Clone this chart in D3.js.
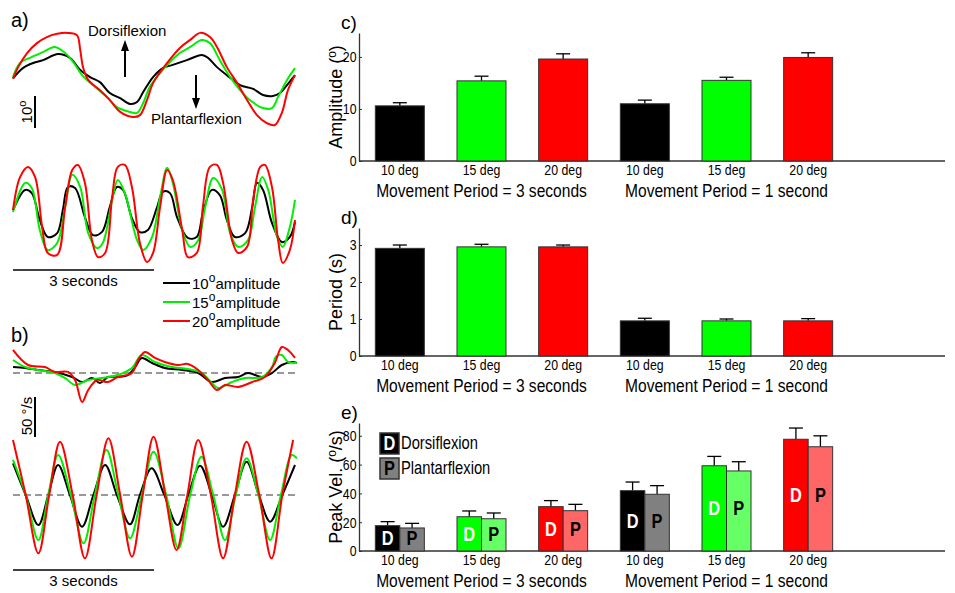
<!DOCTYPE html>
<html>
<head>
<meta charset="utf-8">
<script src="https://cdn.jsdelivr.net/npm/d3@7"></script>
<style>
body{margin:0;background:#fff;}
svg{font-family:"Liberation Sans",Arial,sans-serif;}
</style>
</head>
<body>
<div id="chart"></div>
<script>
// ---- traces: [time (s), value] ----
// a) ankle angle (deg), movement period 3 s
var angleSlowBlack=[[0,-0.1],[0.21,3.1],[0.43,4.7],[0.64,5.6],[0.96,7.5],[1.21,6.3],[1.43,2.5],[1.64,0.3],[1.85,-1.3],[2.06,-4.7],[2.28,-6.3],[2.49,-8.1],[2.64,-7.5],[2.77,-4.4],[2.98,0.3],[3.19,3.1],[3.4,4.1],[3.7,5.6],[4.02,7.2],[4.15,6.3],[4.34,3.4],[4.55,0.9],[4.83,-2.2],[5.11,-3.4],[5.32,-5.3],[5.53,-5.6],[5.68,-4.7],[5.83,-2.2],[6.0,0.9]];
var angleSlowGreen=[[0,0.3],[0.15,4.7],[0.36,6.3],[0.64,8.1],[0.89,9.7],[1.11,7.8],[1.28,5.0],[1.47,0.9],[1.7,-2.2],[2.0,-5.9],[2.21,-9.1],[2.49,-10.6],[2.64,-10.9],[2.77,-7.8],[2.91,-2.8],[3.13,1.6],[3.34,5.0],[3.55,7.8],[3.77,9.7],[4.02,11.9],[4.19,10.9],[4.4,5.6],[4.62,0.3],[4.83,-3.8],[5.04,-6.9],[5.32,-9.4],[5.51,-9.4],[5.64,-5.9],[5.83,-0.6],[6.0,3.1]];
var angleSlowRed=[[0,-0.3],[0.11,3.4],[0.3,7.8],[0.51,10.9],[0.72,12.8],[0.94,13.8],[1.15,14.1],[1.36,13.4],[1.43,8.8],[1.49,3.4],[1.6,-0.6],[1.85,-3.8],[2.06,-6.9],[2.28,-10.6],[2.55,-12.2],[2.7,-11.6],[2.85,-6.9],[2.98,-1.6],[3.28,4.7],[3.55,9.4],[3.77,11.9],[3.98,14.1],[4.19,12.8],[4.34,9.7],[4.55,3.4],[4.77,-1.6],[4.98,-6.9],[5.19,-11.6],[5.4,-14.1],[5.57,-14.7],[5.72,-10.9],[5.85,-3.8],[6.0,0.9]];
// a) ankle angle (deg), movement period 1 s
var angleFastBlack=[[0,0.6],[0.26,6.9],[0.4,5.9],[0.57,-2.5],[0.74,-7.8],[0.94,-6.6],[1.06,0.6],[1.17,7.8],[1.32,7.5],[1.53,-1.6],[1.7,-7.2],[1.89,-6.3],[2.06,1.6],[2.21,7.8],[2.34,6.9],[2.53,-1.9],[2.7,-6.3],[2.87,-5.6],[3.06,1.3],[3.19,6.3],[3.34,5.9],[3.49,-1.6],[3.72,-8.1],[3.91,-7.8],[4.04,-0.3],[4.23,6.9],[4.4,5.3],[4.55,-2.5],[4.72,-7.8],[4.94,-6.6],[5.09,1.6],[5.19,9.1],[5.32,6.9],[5.51,-3.4],[5.72,-9.4],[5.89,-7.8],[6.0,-3.1]];
var angleFastGreen=[[0,0],[0.26,9.1],[0.4,7.5],[0.57,-5.6],[0.74,-11.9],[0.94,-9.7],[1.11,1.6],[1.26,11.6],[1.43,7.8],[1.6,-6.6],[1.79,-11.3],[1.91,-9.7],[2.11,3.8],[2.23,10.0],[2.38,5.9],[2.64,-8.8],[2.77,-11.9],[2.96,-7.8],[3.13,4.7],[3.28,13.8],[3.4,9.1],[3.6,-5.6],[3.77,-10.9],[3.94,-8.8],[4.09,1.6],[4.26,10.6],[4.45,6.9],[4.62,-6.6],[4.79,-10.9],[5.0,-8.8],[5.15,1.6],[5.3,10.9],[5.43,6.9],[5.62,-7.8],[5.74,-10.9],[5.89,-4.7],[6.0,3.8]];
var angleFastRed=[[0,0.6],[0.15,10.9],[0.32,14.1],[0.47,10.9],[0.62,-4.7],[0.74,-12.8],[0.94,-13.4],[1.11,1.6],[1.26,13.1],[1.38,14.7],[1.53,9.1],[1.68,-8.8],[1.81,-14.1],[1.96,-12.8],[2.11,4.7],[2.23,14.1],[2.38,14.7],[2.53,7.8],[2.7,-9.7],[2.85,-15.6],[2.98,-12.8],[3.13,1.6],[3.28,13.1],[3.4,10.0],[3.6,-5.6],[3.72,-14.1],[3.91,-12.8],[4.04,1.6],[4.19,14.1],[4.34,14.7],[4.47,9.1],[4.66,-8.8],[4.79,-12.8],[4.98,-10.9],[5.11,3.8],[5.26,14.1],[5.36,14.7],[5.51,7.8],[5.64,-8.8],[5.74,-15.9],[5.89,-11.9],[6.0,-2.5]];
// b) angular velocity (deg/s), movement period 3 s
var velSlowBlack=[[0,7.5],[0.26,6.3],[0.53,3.8],[0.89,1.3],[1.26,-5],[1.47,-11.3],[1.68,-6.3],[1.85,-12.5],[2.02,-5],[2.23,-5],[2.45,-2.5],[2.6,7.5],[2.74,18.8],[2.96,12.5],[3.23,6.3],[3.6,3.8],[3.94,0],[4.23,-11.3],[4.51,-6.3],[4.79,-5],[5.0,0],[5.3,-5],[5.51,0],[5.72,10],[5.94,13.8],[6.04,12.5]];
var velSlowGreen=[[0,16.3],[0.26,7.5],[0.53,3.8],[0.89,0],[1.11,-6.3],[1.32,-15],[1.6,-8.8],[1.89,-6.3],[2.23,-2.5],[2.53,6.3],[2.74,22.5],[3.02,13.8],[3.38,7.5],[3.72,5],[4.02,0],[4.23,-12.5],[4.36,-18.8],[4.66,-11.3],[4.94,-6.3],[5.3,-5],[5.51,7.5],[5.6,21],[5.72,22.5],[5.85,13.8],[6.04,12.5]];
var velSlowRed=[[0,28.8],[0.32,10],[0.68,7.5],[0.89,1.3],[1.17,1.3],[1.32,-8.8],[1.47,-36.3],[1.6,-21.3],[1.79,-8.8],[2.02,-11.3],[2.23,-5],[2.53,0],[2.66,16.3],[2.81,26.3],[3.02,18.8],[3.23,13.8],[3.51,10],[3.72,11.3],[3.94,3.8],[4.15,-8.8],[4.34,-21.3],[4.51,-15],[4.79,-17.5],[5.09,-11.3],[5.36,-5],[5.57,12.5],[5.72,32.5],[5.85,28.8],[6.0,18.8]];
// b) angular velocity (deg/s), movement period 1 s
var velFastBlack=[[0,39.6],[0.27,0],[0.54,-37.5],[0.75,0],[0.96,37.5],[1.21,0],[1.47,-39.6],[1.71,0],[1.96,37.5],[2.21,0],[2.49,-36.7],[2.7,0],[2.95,33.3],[3.22,0],[3.5,-37.5],[3.73,0],[3.98,36.7],[4.23,0],[4.47,-39.6],[4.72,0],[4.97,41.7],[5.23,0],[5.47,-33.3],[5.73,0],[6.0,37.5]];
var velFastGreen=[[0,43.8],[0.27,0],[0.54,-56.3],[0.75,0],[0.96,50],[1.23,0],[1.5,-60.4],[1.74,0],[1.99,56.3],[2.24,0],[2.49,-54.2],[2.74,0],[2.99,54.2],[3.26,0],[3.52,-66.7],[3.77,0],[4.01,47.9],[4.26,0],[4.51,-56.3],[4.74,0],[4.97,45.8],[5.22,0],[5.47,-56.3],[5.7,0],[5.93,50],[6.04,45.8]];
var velFastRed=[[0,68.8],[0.27,0],[0.54,-72.9],[0.77,0],[1.0,66.7],[1.27,0],[1.53,-79.2],[1.78,0],[2.03,70.8],[2.28,0],[2.53,-77.1],[2.76,0],[2.99,72.9],[3.24,0],[3.48,-68.8],[3.71,0],[3.94,68.8],[4.21,0],[4.47,-79.2],[4.72,0],[4.97,66.7],[5.24,0],[5.5,-79.2],[5.73,0],[5.96,68.8]];

// ---- bar charts ----
var conditions=["10 deg","15 deg","20 deg","10 deg","15 deg","20 deg"];
var periodGroups=["Movement Period = 3 seconds","Movement Period = 1 second"];
var amplitudeMean=[10.6,15.4,19.6,11.0,15.5,19.9];
var amplitudeErr=[0.6,0.9,1.0,0.7,0.6,0.9];
var periodMean=[2.91,2.95,2.95,0.95,0.95,0.95];
var periodErr=[0.09,0.07,0.05,0.07,0.05,0.06];
var dorsiVel=[17.6,23.8,30.8,41.9,59.2,77.6];
var dorsiErr=[2.8,4.0,4.2,6.0,6.5,7.8];
var plantarVel=[16.0,22.4,28.0,39.4,55.6,72.4];
var plantarErr=[3.2,4.0,4.4,6.0,6.4,7.6];
var traceLegend=["10","15","20"];

var lineColors=["#000000","#00ee00","#ff0000"];
var dColors=["#000000","#00ff00","#ff0000","#000000","#00ff00","#ff0000"];
var pColors=["#808080","#66ff66","#ff6666","#808080","#66ff66","#ff6666"];

var NARROW=0.82; // horizontal squeeze of the right-hand labels

var svg=d3.select("#chart").append("svg")
    .attr("width",955).attr("height",593);

function narrowText(parent,x,y,size,txt){
    return parent.append("text")
        .attr("transform","translate("+x+","+y+") scale("+NARROW+",1)")
        .attr("font-size",size).text(txt);
}

//---------------- left column: traces
var xT=d3.scaleLinear().domain([0,6]).range([13,295]);
var line=function(yS){
    return d3.line().x(d=>xT(d[0])).y(d=>yS(d[1])).curve(d3.curveCatmullRom.alpha(0.5));
};
function traces(sets,yS,dashed){
    if(dashed){
        svg.append("line")
            .attr("x1",xT(0)).attr("x2",xT(6)+2)
            .attr("y1",yS(0)).attr("y2",yS(0))
            .attr("stroke","#777").attr("stroke-width",1.3)
            .attr("stroke-dasharray","7,4");
    }
    sets.forEach(function(s,i){
        svg.append("path").datum(s)
            .attr("d",line(yS))
            .attr("fill","none")
            .attr("stroke",lineColors[i])
            .attr("stroke-width",2);
    });
}
var yA1=d3.scaleLinear().domain([-15,15]).range([126,30]);
var yA2=d3.scaleLinear().domain([-15,15]).range([260,164]);
var yB1=d3.scaleLinear().domain([-50,50]).range([413,333]);
var yB2=d3.scaleLinear().domain([-50,50]).range([535,455]);

traces([angleSlowBlack,angleSlowGreen,angleSlowRed],yA1,false);
traces([angleFastBlack,angleFastGreen,angleFastRed],yA2,false);
traces([velSlowBlack,velSlowGreen,velSlowRed],yB1,true);
traces([velFastBlack,velFastGreen,velFastRed],yB2,true);

svg.append("text").attr("x",11).attr("y",27).attr("font-size",20).text("a)");
svg.append("text").attr("x",11).attr("y",342).attr("font-size",20).text("b)");

// direction arrows
function arrow(x,yFrom,yTo){
    var dir=yTo<yFrom?-1:1;
    svg.append("line").attr("x1",x).attr("x2",x)
        .attr("y1",yFrom).attr("y2",yTo-dir*10)
        .attr("stroke","#000").attr("stroke-width",2);
    svg.append("path")
        .attr("d","M"+(x-4)+","+(yTo-dir*11)+"L"+(x+4)+","+(yTo-dir*11)+"L"+x+","+yTo+"Z")
        .attr("fill","#000");
}
arrow(125,77,40);
arrow(196,75,109);
svg.append("text").attr("x",88).attr("y",36).attr("font-size",15).text("Dorsiflexion");
svg.append("text").attr("x",151).attr("y",124).attr("font-size",15).text("Plantarflexion");

// scale bars
svg.append("line").attr("x1",35).attr("x2",35)
    .attr("y1",96).attr("y2",96+(yA1(0)-yA1(10)))
    .attr("stroke","#000").attr("stroke-width",2);
var lab10=svg.append("text").attr("transform","translate(32,112) rotate(-90)")
    .attr("text-anchor","middle").attr("font-size",15);
lab10.append("tspan").text("10");
lab10.append("tspan").attr("dy",-6).attr("font-size",11).text("o");
svg.append("line").attr("x1",35).attr("x2",35)
    .attr("y1",397).attr("y2",397+(yB1(0)-yB1(50)))
    .attr("stroke","#000").attr("stroke-width",2);
svg.append("text").attr("transform","translate(32,416) rotate(-90)")
    .attr("text-anchor","middle").attr("font-size",15)
    .text("50 °/s");

[270,570].forEach(function(y){
    svg.append("line").attr("x1",xT(0)).attr("x2",xT(3))
        .attr("y1",y).attr("y2",y).attr("stroke","#000").attr("stroke-width",1.5);
    svg.append("text").attr("x",(xT(0)+xT(3))/2).attr("y",y+16)
        .attr("text-anchor","middle").attr("font-size",15).text("3 seconds");
});

// trace legend
traceLegend.forEach(function(a,i){
    var y=283+i*19;
    svg.append("line").attr("x1",163).attr("x2",190).attr("y1",y).attr("y2",y)
        .attr("stroke",lineColors[i]).attr("stroke-width",2);
    var t=svg.append("text").attr("x",192).attr("y",y+6).attr("font-size",15);
    t.append("tspan").text(a);
    t.append("tspan").attr("dy",-7).attr("font-size",12).text("o");
    t.append("tspan").attr("dy",7).text("amplitude");
});

//---------------- right column: bar charts
var axisX=359, axisRight=945, plotH=128;
var x=d3.scaleBand().domain(d3.range(conditions.length))
    .range([axisX,849]).paddingInner(0.4).paddingOuter(0.2);

// title: list of [text, superscript?]
function panel(top,yMax,ticks,letter,title){
    var y0=top+plotH;
    var y=d3.scaleLinear().domain([0,yMax]).range([y0,top]);
    var g=svg.append("g");
    g.append("text").attr("x",341).attr("y",top-4).attr("font-size",19).text(letter);

    var ya=g.append("g").attr("transform","translate("+axisX+",0)")
        .call(d3.axisLeft(y).tickValues(ticks).tickFormat(d3.format("d"))
            .tickSizeInner(-3).tickSizeOuter(0).tickPadding(3));
    ya.select(".domain").attr("stroke","#333").attr("stroke-width",1.3);
    ya.selectAll(".tick line").attr("stroke","#333");
    ya.selectAll("text").attr("font-size",15).attr("fill","#000")
        .attr("font-family","Liberation Sans, Arial, sans-serif")
        .attr("transform","scale("+NARROW+",1)");

    var xa=g.append("g").attr("transform","translate(0,"+y0+")")
        .call(d3.axisBottom(x).tickSize(0).tickPadding(4).tickFormat(i=>conditions[i]));
    xa.select(".domain").remove();
    xa.selectAll("text").attr("font-size",14).attr("fill","#000")
        .attr("font-family","Liberation Sans, Arial, sans-serif")
        .attr("transform","scale(0.88,1)");
    g.append("line").attr("x1",axisX).attr("x2",axisRight).attr("y1",y0).attr("y2",y0)
        .attr("stroke","#333").attr("stroke-width",1.3);

    periodGroups.forEach(function(p,k){
        var c=x(1+3*k)+x.bandwidth()/2;
        narrowText(g,c,y0+36,19,p).attr("text-anchor","middle");
    });

    var t=g.append("text").attr("transform","translate(336,"+(top+plotH/2)+") rotate(-90)")
        .attr("text-anchor","middle").attr("font-size",18);
    title.forEach(function(part){
        if(part[1]) t.append("tspan").attr("dy",-6).attr("font-size",12).text(part[0]);
        else t.append("tspan").attr("dy",t.selectAll("tspan").size()?6:0).text(part[0]);
    });
    return {g:g,y:y};
}

function errBar(g,y,cx,v,e){
    g.append("line").attr("x1",cx).attr("x2",cx).attr("y1",y(v)).attr("y2",y(v+e))
        .attr("stroke","#000").attr("stroke-width",1.3);
    g.append("line").attr("x1",cx-7).attr("x2",cx+7).attr("y1",y(v+e)).attr("y2",y(v+e))
        .attr("stroke","#000").attr("stroke-width",1.3);
}

function simpleBars(p,means,errs){
    means.forEach(function(v,i){
        errBar(p.g,p.y,x(i)+x.bandwidth()/2,v,errs[i]);
        p.g.append("rect").attr("x",x(i)).attr("width",x.bandwidth())
            .attr("y",p.y(v)).attr("height",p.y(0)-p.y(v))
            .attr("fill",dColors[i]).attr("stroke","#333").attr("stroke-width",1);
    });
}

// c) amplitude
var pc=panel(33,24.6,[0,10,20],"c)",[["Amplitude (",false],["o",true],[")",false]]);
simpleBars(pc,amplitudeMean,amplitudeErr);
// d) period
var pd=panel(228,3.46,[0,1,2,3],"d)",[["Period (s)",false]]);
simpleBars(pd,periodMean,periodErr);
// e) peak velocity
var pe=panel(423,88.9,[0,20,40,60,80],"e)",[["Peak Vel. (",false],["o",true],["/s)",false]]);
var hw=x.bandwidth()/2;
conditions.forEach(function(c,i){
    var pairs=[[dorsiVel[i],dorsiErr[i],dColors[i],"D","#fff",x(i)],
               [plantarVel[i],plantarErr[i],pColors[i],"P","#000",x(i)+hw]];
    pairs.forEach(function(b){
        errBar(pe.g,pe.y,b[5]+hw/2,b[0],b[1]);
        pe.g.append("rect").attr("x",b[5]).attr("width",hw)
            .attr("y",pe.y(b[0])).attr("height",pe.y(0)-pe.y(b[0]))
            .attr("fill",b[2]).attr("stroke","#333").attr("stroke-width",1);
        narrowText(pe.g,b[5]+hw/2,pe.y(dorsiVel[i]/2)+7,20,b[3])
            .attr("text-anchor","middle").attr("font-weight","bold").attr("fill",b[4]);
    });
});
// e) legend
[["D","Dorsiflexion","#000","#fff"],["P","Plantarflexion","#808080","#000"]].forEach(function(l,i){
    var y=433+i*25;
    pe.g.append("rect").attr("x",380).attr("y",y).attr("width",19).attr("height",21)
        .attr("fill",l[2]).attr("stroke","#333").attr("stroke-width",1.5);
    narrowText(pe.g,389.5,y+17,20,l[0])
        .attr("text-anchor","middle").attr("font-weight","bold").attr("fill",l[3]);
    narrowText(pe.g,401,y+16,18,l[1]);
});
</script>
</body>
</html>
